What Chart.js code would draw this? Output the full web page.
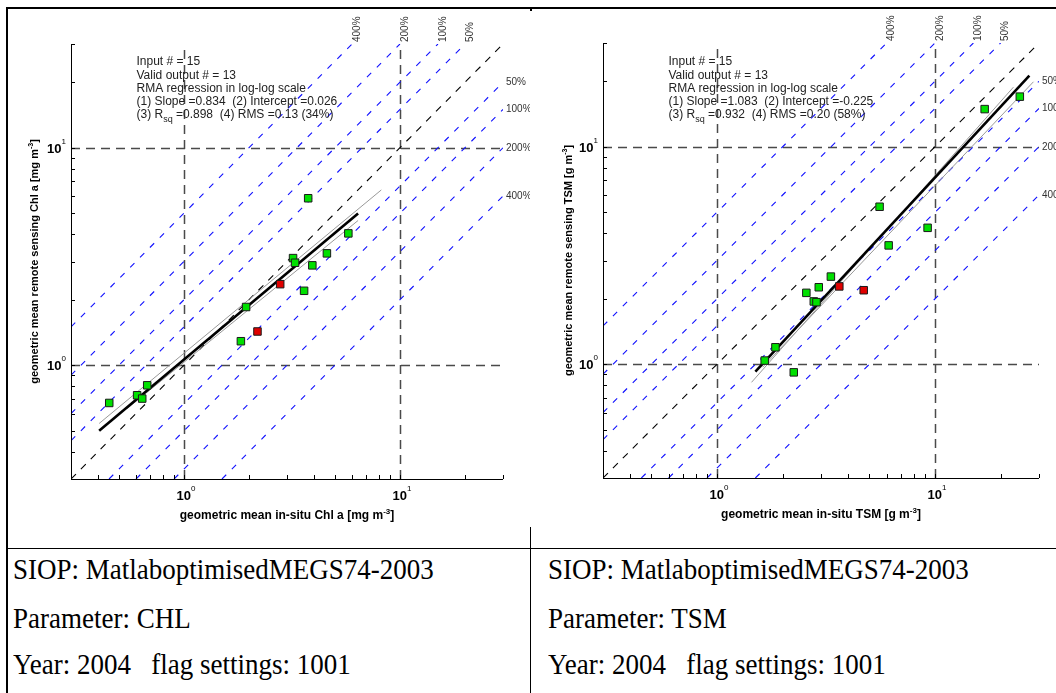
<!DOCTYPE html>
<html>
<head>
<meta charset="utf-8">
<script src="https://cdn.jsdelivr.net/npm/chart.js@4.4.1/dist/chart.umd.min.js"></script>
<style>
  body { margin: 0; background: #fff; width: 1056px; height: 693px; overflow: hidden; position: relative; }
  canvas { position: absolute; top: 0; }
  #chlChart { left: 0; }
  #tsmChart { left: 530px; }
  .rule { position: absolute; background: #000; z-index: 2; }
  .cell { position: absolute; font-family: "Liberation Serif", "Times New Roman", serif; font-size: 27px;
          line-height: 27px; color: #000; white-space: pre; transform-origin: 0 50%; transform: scaleY(1.08); }
</style>
</head>
<body>
<canvas id="chlChart" width="530" height="548"></canvas>
<canvas id="tsmChart" width="526" height="548"></canvas>

<div class="rule" style="left:6px;top:7px;width:1050px;height:2px"></div>
<div class="rule" style="left:6px;top:7px;width:2px;height:686px"></div>
<div class="rule" style="left:530px;top:7px;width:2px;height:4px"></div>
<div class="rule" style="left:6px;top:548px;width:1050px;height:1px"></div>
<div class="rule" style="left:530px;top:527px;width:1px;height:166px"></div>

<div class="cell" style="left:13px;top:556px">SIOP: MatlaboptimisedMEGS74-2003</div>
<div class="cell" style="left:13px;top:605px">Parameter: CHL</div>
<div class="cell" style="left:13px;top:651px">Year: 2004   flag settings: 1001</div>
<div class="cell" style="left:548px;top:556px">SIOP: MatlaboptimisedMEGS74-2003</div>
<div class="cell" style="left:548px;top:605px">Parameter: TSM</div>
<div class="cell" style="left:548px;top:651px">Year: 2004   flag settings: 1001</div>

<script>
// axis range (both axes, both panels)
const axisMin = 0.3, axisMax = 30;
const majorTicks = [1, 10];
const minorTicks = [0.3, 0.4, 0.5, 0.6, 0.7, 0.8, 0.9, 2, 3, 4, 5, 6, 7, 8, 9, 20, 30];

// relative error lines: y = ratio * x
const upperRatios = [1.5, 2, 3, 5];
const lowerRatios = [1 / 1.5, 1 / 2, 1 / 3, 1 / 5];
const pctLabels = ['50%', '100%', '200%', '400%'];

// Chl a panel
const chlInsitu = [0.451, 0.607, 0.641, 0.676, 1.835, 1.94, 3.20, 3.27, 3.60, 3.76, 3.93, 4.59, 5.77];
const chlRemote = [0.671, 0.728, 0.703, 0.809, 1.29, 1.853, 3.11, 2.96, 2.20, 5.86, 2.88, 3.27, 4.04];
const chlFlagInsitu = [2.19, 2.79];
const chlFlagRemote = [1.43, 2.36];
const chlFit = [0.834, 0.026];          // slope, intercept (log10)
const chlFitRange = [0.405, 6.4];
const chlBandA = [[0.405, 0.54], [8.2, 6.4]];
const chlBandB = [[0.545, 0.632], [6.4, 4.63]];
const chlStats = ['15', '13', '0.834', '0.026', '0.898', '0.13 (34%)'];

// TSM panel
const tsmInsitu = [1.655, 1.854, 2.25, 2.57, 2.78, 2.86, 2.93, 3.33, 5.57, 6.13, 9.25, 16.9, 24.5];
const tsmRemote = [1.04, 1.197, 0.918, 2.13, 1.945, 1.93, 2.26, 2.53, 5.30, 3.52, 4.24, 14.9, 17.0];
const tsmFlagInsitu = [3.64, 4.71];
const tsmFlagRemote = [2.28, 2.19];
const tsmFit = [1.083, -0.225];
const tsmFitRange = [1.5, 27.1];
const tsmBandA = [[1.44, 0.826], [22.9, 18.8]];
const tsmBandB = [[1.62, 0.97], [28.3, 19.9]];
const tsmStats = ['15', '13', '1.083', '-0.225', '0.932', '0.20 (58%)'];

const sansFont = '"Liberation Sans", Arial, Helvetica, sans-serif';

function ratioLine(r) {
  const x0 = Math.max(axisMin, axisMin / r);
  const x1 = Math.min(axisMax, axisMax / r);
  return [{x: x0, y: r * x0}, {x: x1, y: r * x1}];
}

function lineSet(data, color, width, dash, order) {
  return {data, showLine: true, pointRadius: 0, borderColor: color, borderWidth: width,
          borderDash: dash, fill: false, order};
}

function buildDatasets(xs, ys, fx, fy, fit, range, bandA, bandB) {
  const ds = [];
  ds.push({data: xs.map((v, i) => ({x: v, y: ys[i]})), pointStyle: 'rect', pointRadius: 5.3,
           backgroundColor: '#00e000', borderColor: '#1a1a1a', borderWidth: 1, order: 0});
  ds.push({data: fx.map((v, i) => ({x: v, y: fy[i]})), pointStyle: 'rect', pointRadius: 5.3,
           backgroundColor: '#e00000', borderColor: '#1a1a1a', borderWidth: 1, order: 0});
  const fitLine = range.map(v => ({x: v, y: Math.pow(10, fit[1] + fit[0] * Math.log10(v))}));
  ds.push(lineSet(fitLine, '#000', 2.6, [], 1));
  [bandA, bandB].forEach(b => ds.push(lineSet(b.map(p => ({x: p[0], y: p[1]})), '#999', 1, [], 2)));
  ds.push(lineSet(ratioLine(1), '#000', 1.1, [7, 7], 3));
  upperRatios.concat(lowerRatios).forEach(r => ds.push(lineSet(ratioLine(r), '#1010ff', 1.1, [6, 8], 3)));
  return ds;
}

function drawRuns(ctx, runs, x, y, align) {
  let w = 0;
  runs.forEach(r => { ctx.font = r[1]; w += ctx.measureText(r[0]).width; });
  let cx = align === 'center' ? x - w / 2 : (align === 'right' ? x - w : x);
  runs.forEach(r => {
    ctx.font = r[1];
    ctx.fillText(r[0], cx, y + (r[2] || 0));
    cx += ctx.measureText(r[0]).width;
  });
}

const decoPlugin = {
  id: 'deco',
  beforeDatasetsDraw(chart) {
    const {ctx, chartArea: a, scales: {x, y}} = chart;
    ctx.save();
    ctx.strokeStyle = '#4a4a4a';
    ctx.lineWidth = 1.5;
    ctx.setLineDash([9, 6]);
    majorTicks.forEach(v => {
      const px = Math.round(x.getPixelForValue(v)) + 0.5;
      ctx.beginPath(); ctx.moveTo(px, a.bottom); ctx.lineTo(px, a.top); ctx.stroke();
      const py = Math.round(y.getPixelForValue(v)) + 0.5;
      ctx.beginPath(); ctx.moveTo(a.left, py); ctx.lineTo(a.right, py); ctx.stroke();
    });
    ctx.restore();
  },
  afterDatasetsDraw(chart, args, o) {
    const {ctx, chartArea: a, scales: {x, y}} = chart;
    ctx.save();
    // axes
    ctx.strokeStyle = '#000';
    ctx.lineWidth = 1;
    ctx.beginPath();
    ctx.moveTo(a.left + 0.5, a.top); ctx.lineTo(a.left + 0.5, a.bottom + 0.5); ctx.lineTo(a.right, a.bottom + 0.5);
    ctx.stroke();
    // inward ticks
    ctx.beginPath();
    minorTicks.concat(majorTicks).forEach(v => {
      const px = Math.round(x.getPixelForValue(v)) + 0.5;
      ctx.moveTo(px, a.bottom); ctx.lineTo(px, a.bottom - 4);
      const py = Math.round(y.getPixelForValue(v)) + 0.5;
      ctx.moveTo(a.left, py); ctx.lineTo(a.left + 4, py);
    });
    ctx.stroke();

    // tick labels
    ctx.fillStyle = '#000';
    ctx.textBaseline = 'alphabetic';
    const big = 'bold 13px ' + sansFont, sup = '8px ' + sansFont;
    majorTicks.forEach(v => {
      const e = String(Math.round(Math.log10(v)));
      const py = y.getPixelForValue(v);
      drawRuns(ctx, [['10', big], [e, sup, -9]], a.left - 5, py + 5, 'right');
      const px = x.getPixelForValue(v);
      drawRuns(ctx, [['10', big], [e, sup, -9]], px + 2, a.bottom + 21, 'center');
    });

    // axis titles
    const xf = 'bold 12px ' + sansFont, xs = 'bold 8px ' + sansFont;
    drawRuns(ctx, [[o.xTitle[0], xf], [o.xTitle[1], xs, -5], [']', xf]], (a.left + a.right) / 2, a.bottom + 40, 'center');
    const tf = 'bold 11px ' + sansFont, ts = 'bold 7px ' + sansFont;
    ctx.save();
    ctx.translate(o.yTitleX, (a.top + a.bottom) / 2);
    ctx.rotate(-Math.PI / 2);
    drawRuns(ctx, [[o.yTitle[0], tf], [o.yTitle[1], ts, -5], [']', tf]], 0, 0, 'center');
    ctx.restore();

    // percent labels
    ctx.fillStyle = '#333';
    ctx.font = '10px ' + sansFont;
    upperRatios.forEach((r, i) => {
      const px = x.getPixelForValue(axisMax / r);
      ctx.save();
      ctx.translate(px + 5, a.top - 2);
      ctx.rotate(-Math.PI / 2);
      ctx.textAlign = 'left';
      ctx.textBaseline = 'middle';
      ctx.fillText(pctLabels[i], 0, 0);
      ctx.restore();
    });
    ctx.textBaseline = 'middle';
    lowerRatios.forEach((r, i) => {
      const py = y.getPixelForValue(axisMax * r);
      ctx.fillText(pctLabels[i], a.right + 3, py);
    });

    // regression statistics
    const s = o.stats;
    const nf = '12px ' + sansFont, sf = '9px ' + sansFont;
    ctx.fillStyle = '#222';
    ctx.textBaseline = 'alphabetic';
    const tx = a.left + 65.5;
    drawRuns(ctx, [['Input # = ' + s[0], nf]], tx, 65, 'left');
    drawRuns(ctx, [['Valid output # = ' + s[1], nf]], tx, 78.5, 'left');
    drawRuns(ctx, [['RMA regression in log-log scale', nf]], tx, 92, 'left');
    drawRuns(ctx, [['(1) Slope =' + s[2] + '  (2) Intercept =' + s[3], nf]], tx, 105, 'left');
    drawRuns(ctx, [['(3) R', nf], ['sq', sf, 4], [' =' + s[4] + '  (4) RMS =' + s[5], nf]], tx, 117.5, 'left');
    ctx.restore();
  }
};

function makeChart(id, datasets, pad, deco) {
  return new Chart(document.getElementById(id), {
    type: 'scatter',
    data: {datasets},
    options: {
      responsive: false,
      animation: false,
      devicePixelRatio: 1,
      layout: {padding: pad},
      plugins: {legend: {display: false}, tooltip: {enabled: false}, deco},
      scales: {
        x: {type: 'logarithmic', min: axisMin, max: axisMax, display: false},
        y: {type: 'logarithmic', min: axisMin, max: axisMax, display: false}
      }
    },
    plugins: [decoPlugin]
  });
}

makeChart('chlChart',
  buildDatasets(chlInsitu, chlRemote, chlFlagInsitu, chlFlagRemote, chlFit, chlFitRange, chlBandA, chlBandB),
  {left: 71, right: 27, top: 44, bottom: 69},
  {xTitle: ['geometric mean in-situ Chl a [mg m', '-3'], yTitle: ['geometric mean remote sensing Chl a [mg m', '-3'],
   yTitleX: 38, stats: chlStats});

makeChart('tsmChart',
  buildDatasets(tsmInsitu, tsmRemote, tsmFlagInsitu, tsmFlagRemote, tsmFit, tsmFitRange, tsmBandA, tsmBandB),
  {left: 73, right: 17, top: 43, bottom: 70},
  {xTitle: ['geometric mean in-situ TSM [g m', '-3'], yTitle: ['geometric mean remote sensing TSM [g m', '-3'],
   yTitleX: 42, stats: tsmStats});
</script>
</body>
</html>
